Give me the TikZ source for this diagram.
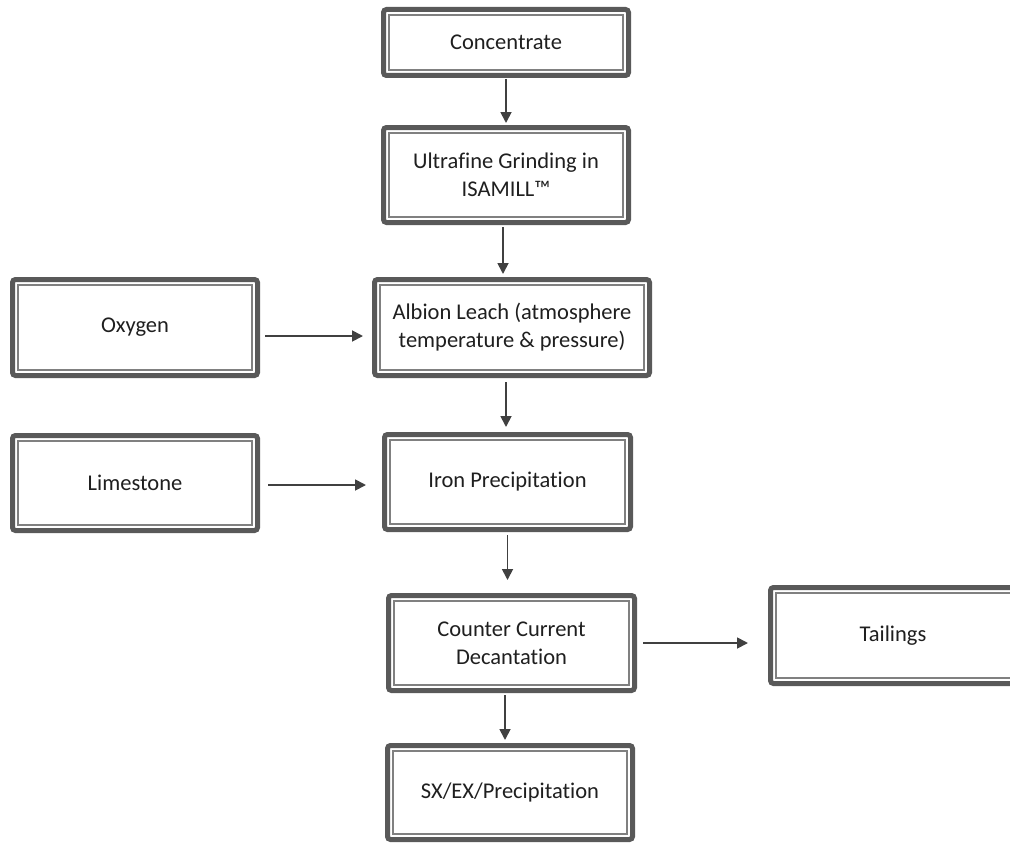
\documentclass[tikz,border=0pt]{standalone}
\usepackage{fontspec}
\setmainfont{Carlito}[Ligatures=NoCommon]
\usetikzlibrary{arrows.meta}
\definecolor{bxc}{HTML}{595959}
\definecolor{inc}{HTML}{808080}
\definecolor{txt}{HTML}{1F1F1F}
\definecolor{arc}{HTML}{404040}
\tikzset{
  box/.style={draw=bxc, line width=5pt, rounded corners=3pt, fill=white,
    minimum width=245pt, minimum height=95pt, inner sep=0pt, outer sep=0pt,
    align=center, text=txt, font=\fontsize{22.5pt}{28pt}\selectfont},
  innerline/.style={draw=inc, line width=1.4pt},
  arr/.style={draw=arc, line width=1.8pt, -{Triangle[width=11pt,length=11pt]}},
}
\begin{document}
\begin{tikzpicture}[x=1pt,y=-1pt]
\useasboundingbox (0,0) rectangle (1010,843);
\clip (0,0) rectangle (1010,843);
\node[box, minimum height=66pt] (conc) at (506,42.5) {Concentrate};
\node[box] (ufg) at (506,175) {Ultrafine Grinding in\\ISAMILL™};
\node[box, minimum width=275pt, minimum height=96pt] (alb) at (512,327.5) {Albion Leach (atmosphere\\temperature \& pressure)};
\node[box, minimum height=96pt] (oxy) at (135,327.5) {Oxygen};
\node[box] (lime) at (135,483) {Limestone};
\node[box, minimum width=246pt] (iron) at (507.5,482) {Iron Precipitation};
\node[box, minimum width=246pt] (ccd) at (511.5,643) {Counter Current\\Decantation};
\node[box, minimum width=255pt, minimum height=96pt] (tail) at (898,635.5) {\hspace*{-10pt}Tailings};
\node[box, minimum height=94pt] (sx) at (510,792.5) {SX/EX/Precipitation};
\foreach \n in {conc,ufg,alb,oxy,lime,iron,ccd,tail,sx}
  \draw[innerline] ([shift={(5.4pt,-5.4pt)}]\n.north west) rectangle ([shift={(-5.4pt,5.4pt)}]\n.south east);
% connectors
\draw[arr, shorten <=3.5pt, shorten >=4.5pt] (conc.south) -- (ufg.north);
\draw[arr, shorten <=4.5pt, shorten >=5.5pt] ([xshift=-3pt]ufg.south) -- ([xshift=-3pt]ufg.south |- alb.north);
\draw[arr, shorten <=7.5pt, shorten >=11.5pt] ([yshift=-8.5pt]oxy.east) -- ([yshift=-8.5pt]oxy.east -| alb.west);
\draw[arr, shorten <=6.5pt, shorten >=7.5pt] ([xshift=-1.5pt]alb.south -| iron.north) -- ([xshift=-1.5pt]iron.north);
\draw[arr, shorten <=10.5pt, shorten >=18.5pt] ([yshift=-2pt]lime.east) -- ([yshift=-2pt]lime.east -| iron.west);
\draw[arr, shorten <=5.5pt, shorten >=15.5pt] (iron.south) -- (iron.south |- ccd.north);
\draw[arr, shorten <=8.5pt, shorten >=22.5pt] (ccd.east) -- (ccd.east -| tail.west);
\draw[arr, shorten <=4.5pt, shorten >=5.5pt] ([xshift=-6.5pt]ccd.south) -- ([xshift=-6.5pt]ccd.south |- sx.north);
\end{tikzpicture}
\end{document}
